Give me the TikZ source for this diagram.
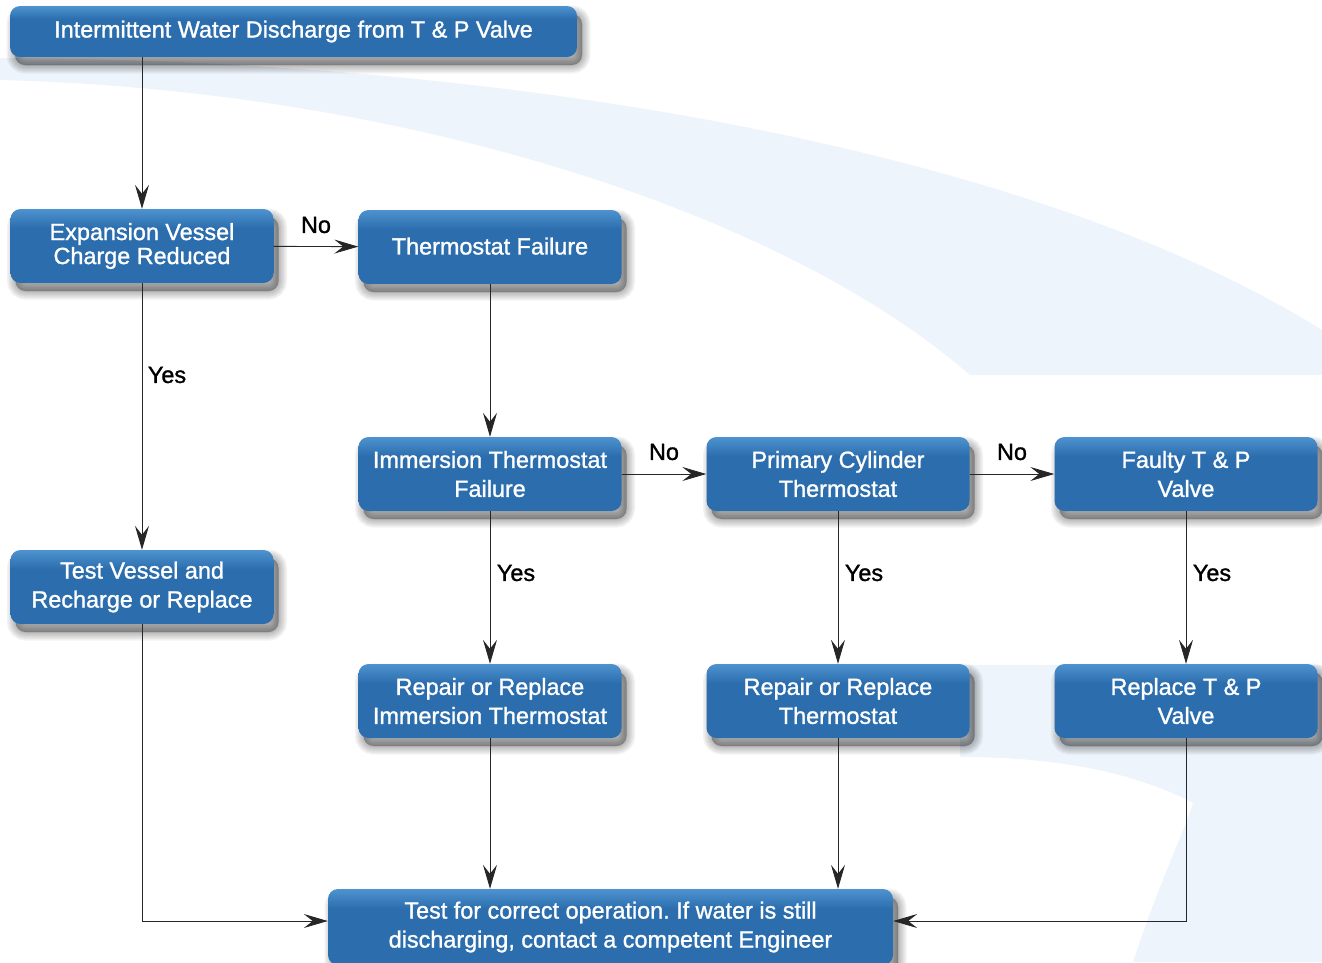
\documentclass[tikz,border=0pt]{standalone}
\usepackage{fontspec}
\setmainfont{Liberation Sans}
\newfontfamily\bxfont{Liberation Sans}[FakeBold=1.2]
\frenchspacing
\usetikzlibrary{arrows.meta}
\definecolor{boxmain}{HTML}{2C6EAD}
\definecolor{boxlight}{HTML}{4E92D0}
\definecolor{swoosh}{HTML}{EEF4FB}
\definecolor{linec}{HTML}{262626}
\pgfdeclareverticalshading{boxshade}{100bp}{color(0bp)=(boxmain); color(62bp)=(boxmain); color(75bp)=(boxlight); color(100bp)=(boxlight)}
\tikzset{
  shlayer/.style={preaction={draw=black, fill=black, line width=#1, opacity=0.05,
      transform canvas={xshift=5pt, yshift=-8pt}}},
  box/.style={rounded corners=10pt, shading=boxshade, text=white,
    minimum width=263pt, minimum height=74pt, align=center, inner sep=0pt,
    font=\bxfont\fontsize{23.4}{29}\selectfont,
    shlayer=17pt, shlayer=14pt, shlayer=11pt, shlayer=8pt, shlayer=5pt, shlayer=2pt, shlayer=0.1pt},
  lbl/.style={text=black, font=\bxfont\fontsize{23.4}{28}\selectfont, inner sep=0pt},
  arr/.style={draw=linec, line width=0.9pt, -{Stealth[length=24pt,width=14pt,inset=9pt]}}
}
\begin{document}
\begin{tikzpicture}[x=1pt,y=-1pt]
\useasboundingbox (0,0) rectangle (1322,962);
% background swooshes
\fill[swoosh] (0,58) .. controls (550,60) and (1050,160) .. (1322,330) -- (1322,375) -- (970,375) .. controls (780,210) and (400,90) .. (0,80) -- cycle;
\fill[swoosh] (960,665) -- (1322,665) -- (1322,962) -- (1133,962) .. controls (1160,880) and (1185,830) .. (1193,803) .. controls (1130,770) and (1050,757) .. (960,757) -- cycle;
% nodes
\node[box, minimum width=567pt, minimum height=51pt] (top) at (293.5,31.5) {Intermittent Water Discharge from T \& P Valve};
\node[box, font=\bxfont\fontsize{23.4}{24}\selectfont] (exp) at (142,246) {Expansion Vessel\\Charge Reduced};
\node[box] (tf) at (490,247) {\raisebox{2pt}{Thermostat Failure}};
\node[box] (imm) at (490,474) {Immersion Thermostat\\Failure};
\node[box] (pct) at (838,474) {Primary Cylinder\\Thermostat};
\node[box] (ftp) at (1186,474) {Faulty T \& P\\Valve};
\node[box] (tv) at (142,587) {Test Vessel and\\Recharge or Replace};
\node[box] (rri) at (490,701) {Repair or Replace\\Immersion Thermostat};
\node[box] (rrt) at (838,701) {Repair or Replace\\Thermostat};
\node[box] (rtp) at (1186,701) {Replace T \& P\\Valve};
\node[box, minimum width=565pt, minimum height=76pt] (fin) at (610.5,927) {Test for correct operation. If water is still\\discharging, contact a competent Engineer};
% connectors
\draw[arr] (top.south -| exp.north) -- (exp.north);
\draw[arr] (exp) -- (tf);
\draw[arr] (exp) -- (tv);
\draw[arr] (tf) -- (imm);
\draw[arr] (imm) -- (pct);
\draw[arr] (pct) -- (ftp);
\draw[arr] (imm) -- (rri);
\draw[arr] (pct) -- (rrt);
\draw[arr] (ftp) -- (rtp);
\draw[arr] (rri) -- (rri |- fin.north);
\draw[arr] (rrt) -- (rrt |- fin.north);
\draw[arr] (tv.south) |- ([yshift=6pt]fin.west);
\draw[arr] (rtp.south) |- ([yshift=6pt]fin.east);
% labels
\node[lbl] (n1) at (316,225) {No};
\node[lbl] (n2) at (664,452) {No};
\node[lbl] (n3) at (1012,452) {No};
\node[lbl] (y1) at (167,375) {Yes};
\node[lbl] (y2) at (516,573) {Yes};
\node[lbl] (y3) at (864,573) {Yes};
\node[lbl] (y4) at (1212,573) {Yes};
\end{tikzpicture}
\end{document}
